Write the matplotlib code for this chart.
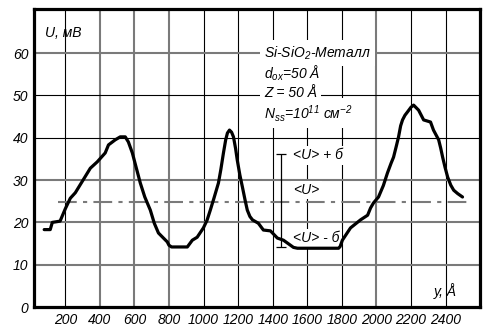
import matplotlib
matplotlib.use('Agg')
from matplotlib import pyplot as plt

# U(y) along the surface, Si-SiO2-metal structure
y_pos = [78, 113, 125, 170, 200, 229, 258, 300, 345, 385, 431, 450, 489, 518, 547, 565,
         588, 610, 634, 660, 692, 715, 739, 768, 790, 800, 815, 906, 935, 963, 999, 1020,
         1039, 1060, 1086, 1100, 1115, 1128, 1138, 1150, 1162, 1173, 1185, 1195, 1210,
         1225, 1240, 1253, 1268, 1283, 1317, 1346, 1387, 1427, 1462, 1503, 1520, 1543,
         1781, 1790, 1803, 1850, 1908, 1949, 1966, 1983, 2012, 2040, 2064, 2085, 2099,
         2115, 2128, 2140, 2151, 2165, 2180, 2200, 2215, 2244, 2273, 2313, 2330, 2360,
         2372, 2383, 2397, 2412, 2430, 2447, 2470, 2498]
u_mv = [18.3, 18.3, 20.0, 20.3, 23.2, 25.7, 27.0, 29.8, 32.8, 34.3, 36.4, 38.3, 39.5,
        40.2, 40.2, 39.0, 36.4, 33.0, 29.3, 26.0, 22.9, 19.8, 17.5, 16.3, 15.4, 14.6,
        14.2, 14.2, 15.8, 16.5, 18.7, 20.5, 22.9, 25.7, 29.3, 32.5, 36.4, 39.5, 41.1,
        41.8, 41.3, 40.2, 37.5, 34.7, 31.2, 28.3, 25.3, 22.9, 21.4, 20.6, 19.8, 18.2,
        18.0, 16.3, 15.8, 14.6, 14.1, 13.9, 13.9, 14.3, 15.8, 18.7, 20.6, 21.7, 23.4,
        24.6, 26.0, 28.7, 31.7, 34.0, 35.4, 38.0, 40.2, 42.8, 44.2, 45.3, 46.1, 47.2,
        47.7, 46.5, 44.2, 43.7, 41.8, 39.5, 37.5, 35.4, 33.0, 30.7, 28.8, 27.6, 26.8,
        26.0]

u_mean = 24.8
u_sigma = 11.0
x_ticks = [200, 400, 600, 800, 1000, 1200, 1400, 1600, 1800, 2000, 2200, 2400]
y_ticks = [0, 10, 20, 30, 40, 50, 60]
gray_x = [400, 600, 800, 2000]
gray_y = [10, 20, 30, 60]

plt.rcParams['font.family'] = ['Liberation Sans Narrow', 'Liberation Sans', 'DejaVu Sans']
plt.rcParams['font.style'] = 'italic'
plt.rcParams['mathtext.fontset'] = 'custom'
plt.rcParams['mathtext.it'] = 'Liberation Sans:italic'
plt.rcParams['mathtext.rm'] = 'Liberation Sans:italic'

fig = plt.figure(figsize=(4.95, 3.32), dpi=100)
ax = fig.add_axes([0.069, 0.075, 0.901, 0.898])
ax.set_xlim(20, 2600)
ax.set_ylim(0, 70.4)

# grid by hand: some lines gray & thick, others black & thin
for xv in x_ticks:
    if xv in gray_x:
        ax.axvline(xv, color='#7a7a7a', lw=1.5, zorder=1)
    else:
        ax.axvline(xv, color='black', lw=0.8, zorder=1)
for yv in y_ticks[1:]:
    if yv in gray_y:
        ax.axhline(yv, color='#7a7a7a', lw=1.5, zorder=1)
    else:
        ax.axhline(yv, color='black', lw=0.8, zorder=1)

ax.plot([160, 2540], [u_mean, u_mean], color='#7a7a7a', lw=1.5, ls=(0, (9, 3, 2, 3)), zorder=2)
ax.plot(y_pos, u_mv, color='black', lw=2.3, solid_joinstyle='round', solid_capstyle='round', zorder=4)

ax.errorbar([1450], [u_mean + 0.4], yerr=u_sigma, color='black', lw=0.9, capsize=3.5,
            capthick=0.9, zorder=3)

box = dict(facecolor='white', edgecolor='none', pad=1.5)
ax.text(1520, u_mean + u_sigma, '<U> + б', fontsize=10, va='center', bbox=box, zorder=3)
ax.text(1520, 27.6, '<U>', fontsize=10, va='center', bbox=box, zorder=3)
ax.text(1520, 16.3, '<U> - б', fontsize=10, va='center', bbox=box, zorder=3)

lines = ['Si-SiO$_2$-Металл', 'd$_{ox}$=50 Å', 'Z = 50 Å', 'N$_{ss}$=10$^{11}$ см$^{-2}$']
ly = [60.0, 55.2, 50.5, 45.8]
for s, yy in zip(lines, ly):
    ax.text(1350, yy, s, fontsize=10, va='center', bbox=dict(facecolor='white', edgecolor='none', pad=3),
            zorder=3)

ax.text(80, 64.7, 'U, мВ', fontsize=10, va='center')
ax.text(2330, 3.8, 'y, Å', fontsize=10, va='center')

ax.set_xticks(x_ticks)
ax.set_yticks(y_ticks)
ax.tick_params(length=0, labelsize=10, pad=4)
for sp in ax.spines.values():
    sp.set_linewidth(2.3)
    sp.set_zorder(5)

fig.savefig('out.png', dpi=100)
